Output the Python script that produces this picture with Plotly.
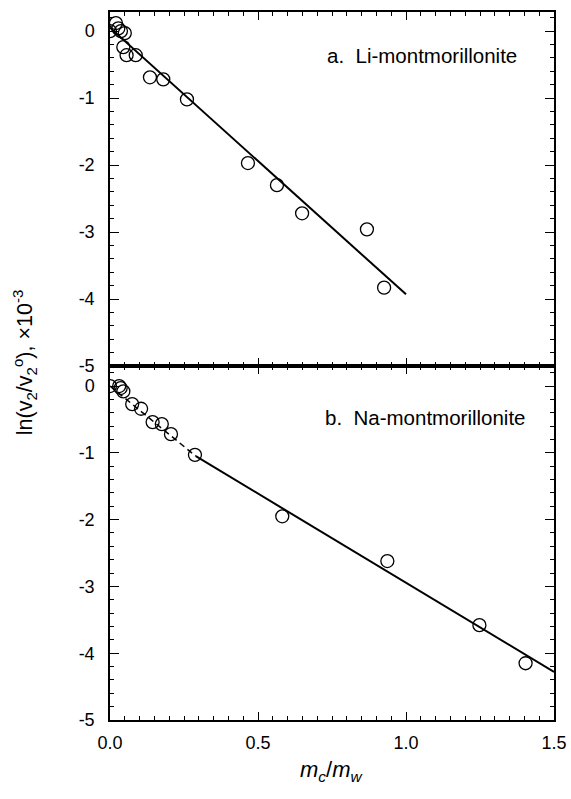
import plotly.graph_objects as go
from plotly.subplots import make_subplots

# ---- data ----
li_x = [0.0, 0.02, 0.028, 0.037, 0.05, 0.045, 0.056, 0.087, 0.135, 0.18, 0.26, 0.466, 0.564, 0.649, 0.868, 0.926]
li_y = [0.0, 0.12, 0.04, 0.0, -0.03, -0.24, -0.36, -0.36, -0.69, -0.72, -1.02, -1.97, -2.30, -2.72, -2.96, -3.83]
li_fit_x = [0.0, 1.0]
li_fit_y = [0.05, -3.93]

na_x = [0.0, 0.031, 0.036, 0.045, 0.075, 0.105, 0.144, 0.175, 0.206, 0.287, 0.582, 0.937, 1.248, 1.404]
na_y = [0.0, 0.0, -0.03, -0.08, -0.27, -0.34, -0.54, -0.57, -0.72, -1.03, -1.95, -2.62, -3.58, -4.15]
na_dash_x = [0.0, 0.29]
na_dash_y = [0.0, -1.05]
na_fit_x = [0.29, 1.5]
na_fit_y = [-1.05, -4.28]

y_tickvals = [0, -1, -2, -3, -4, -5]
y_ticktext = ["0", "-1", "-2", "-3", "-4", "-5"]
x_tickvals = [0.0, 0.5, 1.0, 1.5]
x_ticktext = ["0.0", "0.5", "1.0", "1.5"]

label_a = "a.  Li-montmorillonite"
label_b = "b.  Na-montmorillonite"

FONT = "Liberation Sans, Arial, sans-serif"

fig = make_subplots(rows=2, cols=1, shared_xaxes=True, vertical_spacing=0.0)

marker = dict(symbol="circle-open", size=13, color="black", line=dict(width=1.3, color="black"))

fig.add_trace(go.Scatter(x=li_fit_x, y=li_fit_y, mode="lines",
                         line=dict(color="black", width=2)), row=1, col=1)
fig.add_trace(go.Scatter(x=li_x, y=li_y, mode="markers", marker=marker), row=1, col=1)

fig.add_trace(go.Scatter(x=na_dash_x, y=na_dash_y, mode="lines",
                         line=dict(color="black", width=1.5, dash="6px,4px")), row=2, col=1)
fig.add_trace(go.Scatter(x=na_fit_x, y=na_fit_y, mode="lines",
                         line=dict(color="black", width=2)), row=2, col=1)
fig.add_trace(go.Scatter(x=na_x, y=na_y, mode="markers", marker=marker), row=2, col=1)

axis_common = dict(showline=True, linecolor="black", linewidth=1.5, mirror="ticks",
                   ticks="inside", tickcolor="black", tickwidth=1.2, showgrid=False,
                   zeroline=False, automargin=False,
                   tickfont=dict(family=FONT, size=18, color="black"))

for r in (1, 2):
    fig.update_xaxes(range=[0, 1.5], tickvals=x_tickvals, ticktext=x_ticktext, ticklen=8,
                     ticklabelstandoff=6,
                     minor=dict(dtick=0.05, ticklen=4, ticks="inside", tickcolor="black", tickwidth=1.2),
                     row=r, col=1, **axis_common)
fig.update_xaxes(showticklabels=False, row=1, col=1)
fig.update_xaxes(showticklabels=True, row=2, col=1)

fig.update_yaxes(range=[-5, 0.285], row=1, col=1)
fig.update_yaxes(range=[-5, 0.30], row=2, col=1)
for r in (1, 2):
    fig.update_yaxes(tickvals=y_tickvals, ticktext=y_ticktext, ticklen=9,
                     ticklabelstandoff=10,
                     minor=dict(dtick=0.2, ticklen=4, ticks="inside", tickcolor="black", tickwidth=1.2),
                     row=r, col=1, **axis_common)

fig.update_layout(
    width=571, height=799,
    margin=dict(l=110, r=17, t=12, b=79),
    paper_bgcolor="white", plot_bgcolor="white",
    showlegend=False,
    font=dict(family=FONT, color="black"),
    annotations=[
        dict(text=label_a, x=0.726, y=-0.36, xref="x", yref="y", xanchor="left", yanchor="middle",
             showarrow=False, font=dict(family=FONT, size=20.5, color="black")),
        dict(text=label_b, x=0.72, y=-0.476, xref="x2", yref="y2", xanchor="left", yanchor="middle",
             showarrow=False, font=dict(family=FONT, size=20.5, color="black")),
        dict(text="ln(v<sub>2</sub>/v<sub>2</sub><sup>o</sup>), ×10<sup>-3</sup>",
             x=-0.192, y=0.505, xref="paper", yref="paper", textangle=-90,
             xanchor="center", yanchor="middle", showarrow=False,
             font=dict(family=FONT, size=21.5, color="black")),
        dict(text="<i>m<sub>c</sub></i>/<i>m<sub>w</sub></i>",
             x=0.497, y=-0.072, xref="paper", yref="paper",
             xanchor="center", yanchor="middle", showarrow=False,
             font=dict(family=FONT, size=22, color="black")),
    ],
)

fig.write_html("out.html")
